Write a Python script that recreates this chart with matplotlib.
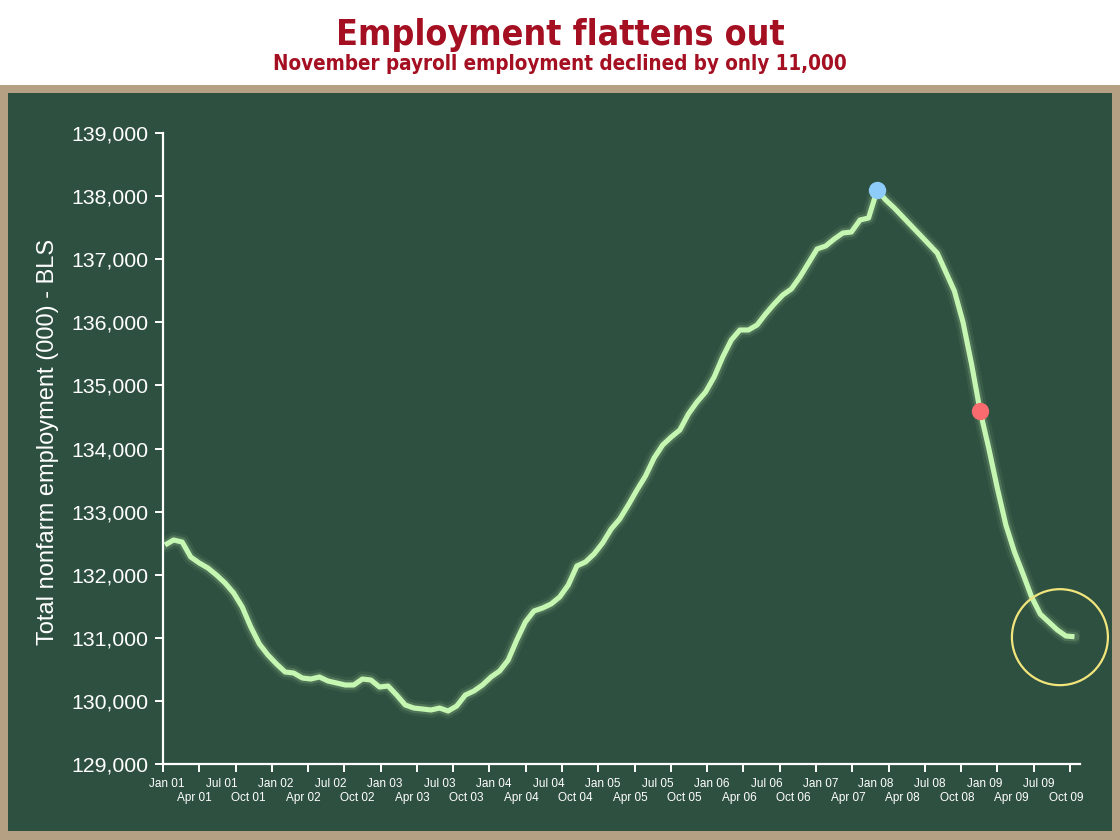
import numpy as np
import matplotlib
matplotlib.use("Agg")
import matplotlib.pyplot as plt
from matplotlib.patches import Rectangle

# Total nonfarm employment (thousands), monthly Jan 2001 - Nov 2009
emp_2001 = [132471, 132550, 132518, 132280, 132185, 132106, 131995, 131868, 131710, 131488, 131171, 130902]
emp_2002 = [130727, 130585, 130458, 130442, 130363, 130347, 130379, 130315, 130284, 130252, 130252, 130347]
emp_2003 = [130331, 130220, 130236, 130093, 129935, 129887, 129872, 129856, 129887, 129840, 129919, 130093]
emp_2004 = [130157, 130252, 130379, 130474, 130648, 130965, 131250, 131425, 131472, 131536, 131647, 131837]
emp_2005 = [132138, 132201, 132328, 132502, 132724, 132883, 133105, 133342, 133564, 133849, 134055, 134182]
emp_2006 = [134293, 134547, 134737, 134895, 135133, 135450, 135719, 135878, 135878, 135957, 136132, 136290]
emp_2007 = [136433, 136528, 136718, 136940, 137162, 137209, 137320, 137415, 137431, 137621, 137653, 138097]
emp_2008 = [137938, 137811, 137669, 137526, 137384, 137241, 137098, 136797, 136496, 136005, 135339, 134594]
emp_2009 = [134008, 133374, 132788, 132360, 132011, 131647, 131377, 131250, 131124, 131028, 131017]

employment = emp_2001 + emp_2002 + emp_2003 + emp_2004 + emp_2005 + emp_2006 + emp_2007 + emp_2008 + emp_2009
months = np.arange(len(employment))

peak_idx = 83      # Dec 07
mark_idx = 95      # Dec 08

tick_labels = ["Jan 01", "Apr 01", "Jul 01", "Oct 01", "Jan 02", "Apr 02", "Jul 02", "Oct 02",
               "Jan 03", "Apr 03", "Jul 03", "Oct 03", "Jan 04", "Apr 04", "Jul 04", "Oct 04",
               "Jan 05", "Apr 05", "Jul 05", "Oct 05", "Jan 06", "Apr 06", "Jul 06", "Oct 06",
               "Jan 07", "Apr 07", "Jan 08", "Apr 08", "Jul 08", "Oct 08", "Jan 09", "Apr 09",
               "Jul 09", "Oct 09"]

plt.rcParams['font.family'] = ['Liberation Sans', 'DejaVu Sans']

fig = plt.figure(figsize=(11.2, 8.4), dpi=100, facecolor='white')

# chalkboard frame
fig.patches.append(Rectangle((0, 0), 1, 755 / 840, transform=fig.transFigure,
                             facecolor='#B5A083', edgecolor='none', zorder=-10))
fig.patches.append(Rectangle((8 / 1120, 9 / 840), 1104 / 1120, 738 / 840, transform=fig.transFigure,
                             facecolor='#2E5041', edgecolor='none', zorder=-9))

# titles
fig.text(0.5, 1 - 35 / 840, "Employment flattens out", ha='center', va='center',
         fontsize=25.7, fontweight='bold', color='#A50F22', family='DejaVu Sans', fontstretch='condensed')
fig.text(0.5, 1 - 64 / 840, "November payroll employment declined by only 11,000", ha='center', va='center',
         fontsize=14.8, fontweight='bold', color='#A50F22', family='DejaVu Sans', fontstretch='condensed')

ax = fig.add_axes([163 / 1120, 76 / 840, 917 / 1120, 631 / 840])
ax.set_facecolor('none')

line_col = '#C6F7B2'
ax.plot(months, employment, color='#B8E8A6', lw=11, alpha=0.08, solid_capstyle='round', solid_joinstyle='round')
ax.plot(months, employment, color='#B8E8A6', lw=7, alpha=0.18, solid_capstyle='round', solid_joinstyle='round')
ax.plot(months, employment, color=line_col, lw=3.7, solid_capstyle='butt', solid_joinstyle='round')

ax.plot(months[peak_idx], employment[peak_idx], 'o', color='#8DCBFA', markersize=12.5, markeredgewidth=0, zorder=5)
ax.plot(months[mark_idx], employment[mark_idx], 'o', color='#F96B6E', markersize=12.5, markeredgewidth=0, zorder=5)

# circle highlighting the latest months
ax.scatter([104.3], [131010], s=4776, facecolors='none', edgecolors='#F2E57C', linewidths=1.6,
           zorder=4, clip_on=False)

ax.set_xlim(-0.233, 106.64)
ax.set_ylim(129000, 139000)

for side in ['top', 'right']:
    ax.spines[side].set_visible(False)
for side in ['left', 'bottom']:
    ax.spines[side].set_color('white')
    ax.spines[side].set_linewidth(1.6)

yt = np.arange(129000, 139001, 1000)
ax.set_yticks(yt)
ax.set_yticklabels([f"{v:,}" for v in yt])
ax.tick_params(axis='y', colors='white', labelsize=15.3, length=5.8, width=1.4, pad=5)

xt = -0.233 + 4.228 * np.arange(26)
ax.set_xticks(xt)
ax.set_xticklabels([])
ax.tick_params(axis='x', colors='white', length=5.8, width=1.4)

label_pos = 0.233 + 3.175 * np.arange(len(tick_labels))
for j, (xp, lab) in enumerate(zip(label_pos, tick_labels)):
    off = -14.4 if j % 2 == 0 else -24.5
    ax.annotate(lab, xy=(xp, 0), xycoords=('data', 'axes fraction'), xytext=(0, off),
                textcoords='offset points', ha='center', va='center', fontsize=8.5, color='white')

fig.text(48 / 1120, 1 - 442 / 840, "Total nonfarm employment (000) - BLS", rotation=90,
         ha='center', va='center', fontsize=17, color='white')

fig.savefig("out.png", dpi=100, facecolor='white')
